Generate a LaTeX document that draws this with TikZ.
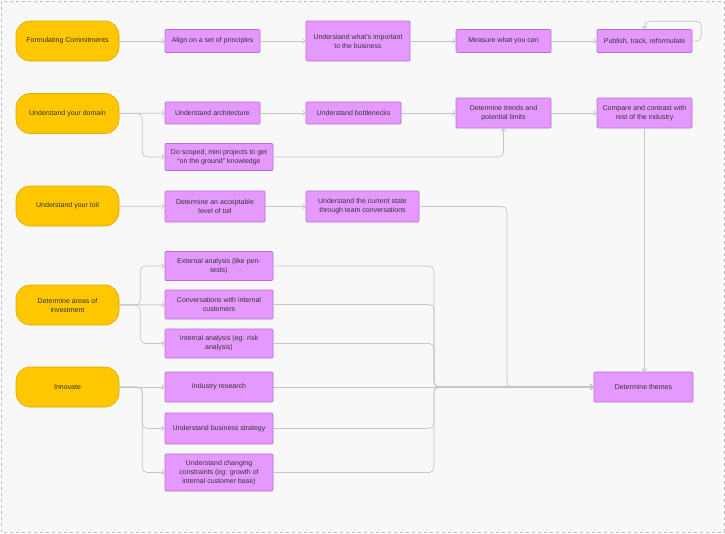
\documentclass[tikz,border=0pt]{standalone}
\usepackage{fontspec}
\setmainfont{Liberation Sans}
\usetikzlibrary{calc,arrows.meta}

\definecolor{bgcol}{HTML}{F8F8F8}
\definecolor{framecol}{HTML}{BDBDBD}
\definecolor{goalfill}{HTML}{FFC700}
\definecolor{goaldraw}{HTML}{DDAA00}
\definecolor{taskfill}{HTML}{E599FF}
\definecolor{taskdraw}{HTML}{B96DD9}
\definecolor{linkcol}{HTML}{C4C4C4}
\definecolor{textcol}{HTML}{333333}

\tikzset{
  goal/.style={draw=goaldraw,fill=goalfill,rounded corners=14pt,minimum width=103pt,
    minimum height=40pt,align=center,text=textcol,line width=0.6pt},
  task/.style={draw=taskdraw,fill=taskfill,rounded corners=1pt,align=center,
    text=textcol,line width=0.6pt,inner sep=0pt},
  link/.style={draw=linkcol,line width=0.7pt,rounded corners=5pt,
    -{Straight Barb[length=2.5pt,width=5pt]}},
}

\begin{document}
\begin{tikzpicture}[x=1pt,y=-1pt,font=\fontsize{7}{9}\selectfont]

    \useasboundingbox (0,0) rectangle (725,533);
    \draw[framecol,fill=bgcol,dashed,line width=0.6pt] (1,1) rectangle (724,532);

    %%% Row A %%%

    \node[goal] (a) at (67.5,41) {Formulating Commitments};
    \node[task,minimum width=95pt,minimum height=23pt] (a1) at (212.5,41)
        {Align on a set of principles};
    \node[task,minimum width=104pt,minimum height=40pt] (a2) at (358,41)
        {Understand what's important\\to the business};
    \node[task,minimum width=95pt,minimum height=23pt] (a3) at (503.5,41)
        {Measure what you can};
    \node[task,minimum width=95pt,minimum height=23pt] (a4) at (644.5,41)
        {Publish, track, reformulate};

    \draw[link] (a) -- (a1);
    \draw[link] (a1) -- (a2);
    \draw[link] (a2) -- (a3);
    \draw[link] (a3) -- (a4);
    \draw[link] (a4.east) -| ([xshift=9pt,yshift=8pt]a4.north east) -| (a4.north);

    %%% Row B %%%

    \node[goal] (b) at (67.5,113.5) {Understand your domain};
    \node[task,minimum width=95pt,minimum height=22pt] (b1) at (212.5,113)
        {Understand architecture};
    \node[task,minimum width=95pt,minimum height=22pt] (b2) at (353.5,113)
        {Understand bottlenecks};
    \node[task,minimum width=95pt,minimum height=30pt] (b3) at (503.5,113)
        {Determine trends and\\potential limits};
    \node[task,minimum width=95pt,minimum height=30pt] (b4) at (644.5,113)
        {Compare and contrast with\\rest of the industry};
    \node[task,minimum width=108pt,minimum height=27pt] (b5) at (219,157)
        {Do scoped, mini projects to get\\``on the ground'' knowledge};

    \draw[link] (b) -- (b1);
    \draw[link] (b1) -- (b2);
    \draw[link] (b2) -- (b3);
    \draw[link] (b3) -- (b4);
    \draw[link] (b.east) -- ++(23,0) |- (b5.west);
    \draw[link] (b5.east) -| (b3.south);

    %%% Row C %%%

    \node[goal] (c) at (67.5,206) {Understand your toil};
    \node[task,minimum width=100pt,minimum height=31pt] (c1) at (215,206.5)
        {Determine an acceptable\\level of toil};
    \node[task,minimum width=113pt,minimum height=31pt] (c2) at (362.5,206.5)
        {Understand the current state\\through team conversations};

    \draw[link] (c) -- (c1);
    \draw[link] (c1) -- (c2);

    %%% Row D %%%

    \node[goal] (d) at (67.5,305) {Determine areas of\\investment};
    \node[task,minimum width=108pt,minimum height=29pt] (d1) at (219,266)
        {External analysis (like pen-\\tests)};
    \node[task,minimum width=108pt,minimum height=29pt] (d2) at (219,304.5)
        {Conversations with internal\\customers};
    \node[task,minimum width=108pt,minimum height=29pt] (d3) at (219,343.5)
        {Internal analysis (eg: risk\\analysis)};

    \draw[link] (d.east) -- ++(21,0) |- (d1.west);
    \draw[link] (d) -- (d2);
    \draw[link] (d.east) -- ++(21,0) |- (d3.west);

    %%% Row E %%%

    \node[goal] (e) at (67.5,387) {Innovate};
    \node[task,minimum width=108pt,minimum height=30pt] (e1) at (219,387)
        {Industry research};
    \node[task,minimum width=108pt,minimum height=31pt] (e2) at (219,428.5)
        {Understand business strategy};
    \node[task,minimum width=108pt,minimum height=37pt] (e3) at (219,472.5)
        {Understand changing\\constraints (eg: growth of\\internal customer base)};

    \draw[link] (e) -- (e1);
    \draw[link] (e.east) -- ++(23,0) |- (e2.west);
    \draw[link] (e.east) -- ++(23,0) |- (e3.west);

    %%% Themes %%%

    \node[task,minimum width=99pt,minimum height=30pt] (f) at (643.5,387)
        {Determine themes};
    \coordinate (merge) at (434,387);
    \coordinate (toiljoin) at (507,387);

    \draw[link] (b4.south) -- (b4.south |- f.north);
    \draw[link] (c2.east) -| (toiljoin) -- (f.west);
    \draw[link] (d1.east) -| (merge) -- (f.west);
    \draw[link] (d2.east) -| (merge) -- (f.west);
    \draw[link] (d3.east) -| (merge) -- (f.west);
    \draw[link] (e1.east) -- (f.west);
    \draw[link] (e2.east) -| (merge) -- (f.west);
    \draw[link] (e3.east) -| (merge) -- (f.west);

\end{tikzpicture}
\end{document}
